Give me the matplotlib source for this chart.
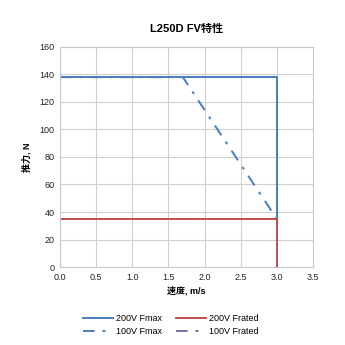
import matplotlib
matplotlib.use("Agg")
import matplotlib.pyplot as plt

plt.rcParams['font.family'] = ['Liberation Sans', 'Noto Sans CJK SC', 'DejaVu Sans']

# Series data (speed m/s, thrust N)
fmax_200_x = [0, 3.0, 3.0]
fmax_200_y = [138, 138, 0]
frated_200_x = [0, 3.0, 3.0]
frated_200_y = [35, 35, 0]
fmax_100_x = [0, 1.7, 3.0]
fmax_100_y = [138, 138, 35]
frated_100_x = [0, 3.0, 3.0]
frated_100_y = [35, 35, 0]

x_ticks = [0.0, 0.5, 1.0, 1.5, 2.0, 2.5, 3.0, 3.5]
y_ticks = [0, 20, 40, 60, 80, 100, 120, 140, 160]

blue = '#4a7ebb'
red = '#c0504d'
purple = '#7d6a9c'
dashdot = (0, (6, 4, 1.5, 4))

fig = plt.figure(figsize=(3.45, 3.45), dpi=100)
ax = fig.add_axes([0.174, 0.226, 0.733, 0.638])

# draw dash-dot series first so solid lines sit on top
h3, = ax.plot(fmax_100_x, fmax_100_y, color=blue, lw=1.4, linestyle=dashdot, label='100V Fmax')
h4, = ax.plot(frated_100_x, frated_100_y, color=purple, lw=1.4, linestyle=dashdot, label='100V Frated')
h1, = ax.plot(fmax_200_x, fmax_200_y, color=blue, lw=1.4, label='200V Fmax')
h2, = ax.plot(frated_200_x, frated_200_y, color=red, lw=1.4, label='200V Frated')

ax.set_xlim(0, 3.5)
ax.set_ylim(0, 160)
ax.set_xticks(x_ticks)
ax.set_xticklabels([f"{t:.1f}" for t in x_ticks])
ax.set_yticks(y_ticks)
ax.grid(True, color='#d0d0d0', lw=0.8)
ax.set_axisbelow(True)
for s in ax.spines.values():
    s.set_color('#c8c8c8')
    s.set_linewidth(0.8)
ax.tick_params(length=0, labelsize=6.5, colors='#222222', pad=4)

ax.set_xlabel('速度, m/s', fontsize=6.5, fontweight='bold', labelpad=3)
ax.set_ylabel('推力, N', fontsize=6.5, fontweight='bold', labelpad=6)
ax.set_title('L250D FV特性', fontsize=8, fontweight='bold', pad=11)

fig.legend(handles=[h1, h3, h2, h4], ncol=2, loc='center',
           bbox_to_anchor=(0.495, 0.058), frameon=False, fontsize=6.5,
           handlelength=3.4, handletextpad=0.3, columnspacing=1.5,
           labelspacing=0.45)

fig.savefig('out.png', dpi=100, facecolor='white')
